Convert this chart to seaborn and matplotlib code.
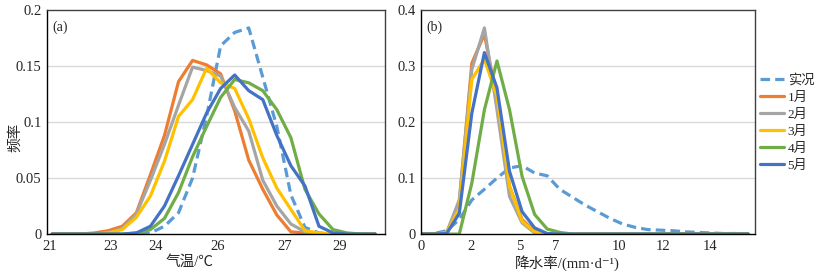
import numpy as np
import pandas as pd
import matplotlib
matplotlib.use("Agg")
import matplotlib.pyplot as plt
import seaborn as sns

# ---- data ----
series_names = ["实况", "1月", "2月", "3月", "4月", "5月"]
series_colors = ["#5B9BD5", "#ED7D31", "#A5A5A5", "#FFC000", "#70AD47", "#4472C4"]

# (a) temperature frequency, 24 categories
temp_obs = [0, 0, 0, 0, 0, 0, 0, 0.001, 0.007, 0.019, 0.05, 0.105, 0.168, 0.18,
            0.184, 0.14, 0.096, 0.035, 0.006, 0.001, 0, 0, 0, 0]
temp_m1 = [0, 0, 0, 0.001, 0.003, 0.007, 0.019, 0.053, 0.088, 0.136, 0.155, 0.151,
           0.143, 0.11, 0.066, 0.04, 0.017, 0.002, 0.001, 0, 0, 0, 0, 0]
temp_m2 = [0, 0, 0, 0, 0.001, 0.005, 0.018, 0.048, 0.08, 0.115, 0.149, 0.146,
           0.141, 0.113, 0.092, 0.048, 0.025, 0.009, 0.002, 0, 0, 0, 0, 0]
temp_m3 = [0, 0, 0, 0, 0.001, 0.004, 0.015, 0.034, 0.065, 0.105, 0.12, 0.148,
           0.135, 0.13, 0.103, 0.068, 0.041, 0.022, 0.003, 0.001, 0, 0, 0, 0]
temp_m4 = [0, 0, 0, 0, 0, 0, 0.001, 0.004, 0.014, 0.037, 0.069, 0.096, 0.122,
           0.138, 0.135, 0.128, 0.111, 0.086, 0.04, 0.018, 0.004, 0.001, 0, 0]
temp_m5 = [0, 0, 0, 0, 0, 0, 0.001, 0.007, 0.025, 0.052, 0.08, 0.108, 0.13,
           0.142, 0.128, 0.12, 0.088, 0.061, 0.043, 0.007, 0.001, 0, 0, 0]
temp_tick_pos = [-0.15, 4.15, 7.4, 11.8, 16.55, 20.5]
temp_tick_labels = ["21", "23", "24", "26", "27", "29"]

# (b) precipitation frequency, 27 categories
prec_obs = [0, 0.001, 0.006, 0.026, 0.061, 0.08, 0.1, 0.118, 0.122, 0.109, 0.104,
            0.08, 0.066, 0.052, 0.04, 0.028, 0.018, 0.012, 0.008, 0.007, 0.006,
            0.004, 0.003, 0.002, 0.001, 0.001, 0]
prec_m1 = [0, 0, 0.002, 0.055, 0.305, 0.357, 0.24, 0.085, 0.026, 0.005, 0, 0, 0,
           0, 0, 0, 0, 0, 0, 0, 0, 0, 0, 0, 0, 0, 0]
prec_m2 = [0, 0, 0.003, 0.061, 0.294, 0.368, 0.222, 0.067, 0.02, 0.002, 0, 0, 0,
           0, 0, 0, 0, 0, 0, 0, 0, 0, 0, 0, 0, 0, 0]
prec_m3 = [0, 0, 0.002, 0.046, 0.276, 0.312, 0.246, 0.085, 0.023, 0.004, 0, 0, 0,
           0, 0, 0, 0, 0, 0, 0, 0, 0, 0, 0, 0, 0, 0]
prec_m4 = [0, 0, 0, 0, 0.091, 0.222, 0.309, 0.222, 0.103, 0.035, 0.009, 0.003, 0,
           0, 0, 0, 0, 0, 0, 0, 0, 0, 0, 0, 0, 0, 0]
prec_m5 = [0, 0, 0.001, 0.037, 0.216, 0.324, 0.261, 0.112, 0.04, 0.011, 0.001, 0,
           0, 0, 0, 0, 0, 0, 0, 0, 0, 0, 0, 0, 0, 0, 0]
prec_tick_pos = [0, 3.9, 7.85, 10.7, 15.7, 19.2, 23.0]
prec_tick_labels = ["0", "2", "5", "7", "10", "12", "14"]

sns.set_style("white")
latin = ["Liberation Serif", "Noto Sans CJK SC", "DejaVu Sans"]
cjk = ["Noto Sans CJK SC", "DejaVu Sans"]
plt.rcParams["font.family"] = latin


def long_table(series_list):
    frames = []
    for name, vals in zip(series_names, series_list):
        frames.append(pd.DataFrame({"idx": np.arange(len(vals)), "freq": vals, "series": name}))
    return pd.concat(frames, ignore_index=True)


def draw_panel(ax, df, xlim, ylim, yticks, ytick_labels, xt_pos, xt_labels, tag, xlabel, xlabel_x):
    for name, col in zip(series_names, series_colors):
        sub = df[df["series"] == name]
        if name == "实况":
            sns.lineplot(data=sub, x="idx", y="freq", ax=ax, color=col, lw=2.3,
                         linestyle=(0, (3, 1.6)), label=name)
        else:
            sns.lineplot(data=sub, x="idx", y="freq", ax=ax, color=col, lw=2.3, label=name)
    ax.set_xlim(*xlim)
    ax.set_ylim(*ylim)
    ax.set_yticks(yticks)
    ax.set_yticklabels(ytick_labels, fontsize=10.5)
    ax.set_xticks(xt_pos)
    ax.set_xticklabels(xt_labels, fontsize=10.5)
    ax.tick_params(length=0, pad=4)
    for y in yticks[1:-1]:
        ax.axhline(y, color="#D9D9D9", lw=1, zorder=0)
    for s in ["top", "right"]:
        ax.spines[s].set_color("#404040")
        ax.spines[s].set_linewidth(1)
    for s in ["left", "bottom"]:
        ax.spines[s].set_color("#000000")
        ax.spines[s].set_linewidth(1)
    ax.set_xlabel(xlabel, fontsize=10.5, family=latin)
    ax.xaxis.set_label_coords(xlabel_x, -0.095)
    ax.set_ylabel("")
    ax.text(0.015, 0.955, tag, transform=ax.transAxes, fontsize=10, va="top", ha="left")
    ax.get_legend().remove()


fig = plt.figure(figsize=(8.19, 2.78), dpi=100)
ax1 = fig.add_axes([0.0574, 0.158, 0.4127, 0.806])
ax2 = fig.add_axes([0.514, 0.158, 0.408, 0.806])

temp_df = long_table([temp_obs, temp_m1, temp_m2, temp_m3, temp_m4, temp_m5])
prec_df = long_table([prec_obs, prec_m1, prec_m2, prec_m3, prec_m4, prec_m5])

draw_panel(ax1, temp_df, (-0.36, 23.7), (0, 0.2), [0, 0.05, 0.1, 0.15, 0.2],
           ["0", "0.05", "0.1", "0.15", "0.2"], temp_tick_pos, temp_tick_labels,
           "(a)", "气温/℃", 0.423)
draw_panel(ax2, prec_df, (-0.05, 26.55), (0, 0.4), [0, 0.1, 0.2, 0.3, 0.4],
           ["0", "0.1", "0.2", "0.3", "0.4"], prec_tick_pos, prec_tick_labels,
           "(b)", "降水率/(mm·d⁻¹)", 0.437)

ax1.set_ylabel("频率", fontsize=10.5, family=cjk)
ax1.yaxis.set_label_coords(-0.072, 0.43)

handles, labels = ax2.get_legend_handles_labels()
fig.legend(handles, labels, loc="upper left", bbox_to_anchor=(0.928, 0.735),
           frameon=False, fontsize=9.5, handlelength=1.8, handletextpad=0.3,
           labelspacing=0.36, borderaxespad=0, borderpad=0)

fig.savefig("out.png", dpi=100)
